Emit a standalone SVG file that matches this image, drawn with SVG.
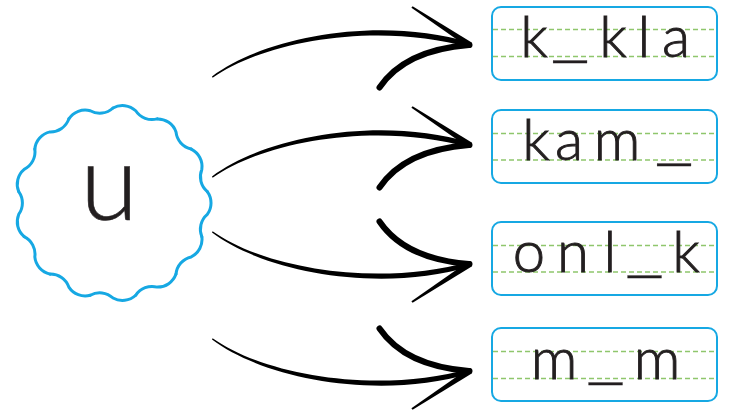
<svg xmlns="http://www.w3.org/2000/svg" xmlns:xlink="http://www.w3.org/1999/xlink" width="734" height="412" viewBox="0 0 734 412">
<style>
.box{fill:#fff;stroke:#16a8e3;stroke-width:2}
.guide{stroke:#8fc66c;stroke-width:1.5;stroke-dasharray:5 3;fill:none}
.lt{font-family:Lato,"Open Sans","Liberation Sans",sans-serif;font-weight:300;font-size:58px;fill:#231f20;stroke:#231f20;stroke-width:0.9;text-anchor:middle}
.us{font-family:"Liberation Mono",monospace;font-weight:400;font-size:56px;stroke-width:0.3}
.wave{fill:none;stroke:#16a8e3;stroke-width:3;stroke-linecap:round;stroke-linejoin:round}
.ink{fill:#000}
.barb{fill:none;stroke:#000;stroke-width:6;stroke-linecap:round}
</style>
<defs>
<path id="wv" d="M-11.45,-94.31 A19.5 19.5 0 0 1 11.45,-94.31 A19.5 19.5 0 0 0 33.69,-88.83"/>
<g id="arr">
<path class="ink" d="M212,76.4 C265,36.5 380,15.4 470,42.6 L470,47.6 C380,21.6 266,39.8 212.6,77.8 Z"/>
<path class="ink" d="M412.6,6.2 L471.7,42.5 L468.3,47.5 L411.4,7.8 Z"/>
<path class="barb" d="M379.5,87.5 Q405,50 469,45"/>
<circle class="ink" cx="469.5" cy="45" r="3"/>
</g>
</defs>
<g id="connectors">
<use xlink:href="#arr"/>
<use xlink:href="#arr" transform="translate(0,100)"/>
<use xlink:href="#arr" transform="matrix(1 0 0 -1 0 309)"/>
<use xlink:href="#arr" transform="matrix(1 0 0 -1 0 416)"/>
</g>
<g id="node-u">
<g class="wave" transform="translate(113,203)">
<use xlink:href="#wv" transform="rotate(90)"/>
<use xlink:href="#wv" transform="rotate(117.69)"/>
<use xlink:href="#wv" transform="rotate(145.38)"/>
<use xlink:href="#wv" transform="rotate(173.08)"/>
<use xlink:href="#wv" transform="rotate(200.77)"/>
<use xlink:href="#wv" transform="rotate(228.46)"/>
<use xlink:href="#wv" transform="rotate(256.15)"/>
<use xlink:href="#wv" transform="rotate(283.85)"/>
<use xlink:href="#wv" transform="rotate(311.54)"/>
<use xlink:href="#wv" transform="rotate(339.23)"/>
<use xlink:href="#wv" transform="rotate(6.92)"/>
<use xlink:href="#wv" transform="rotate(34.62)"/>
<use xlink:href="#wv" transform="rotate(62.31)"/>
</g>
<text x="109" y="220" style="font-family:Lato,'Open Sans','Liberation Sans',sans-serif;font-weight:300;font-size:106px;fill:#231f20;stroke:#231f20;stroke-width:0.6;text-anchor:middle">u</text>
</g>
<g id="word1">
<rect class="box" x="492" y="7" width="225" height="73" rx="9"/>
<line class="guide" x1="493" y1="29.5" x2="716" y2="29.5"/>
<line class="guide" x1="493" y1="56.5" x2="716" y2="56.5"/>
<text class="lt" x="534 570 613 644 676" y="56.5">k<tspan class="us">_</tspan>kla</text>
</g>
<g id="word2">
<rect class="box" x="492" y="110" width="225" height="73" rx="9"/>
<line class="guide" x1="493" y1="133.5" x2="716" y2="133.5"/>
<line class="guide" x1="493" y1="160" x2="716" y2="160"/>
<text class="lt" x="536 569 617 674" y="160">kam<tspan class="us">_</tspan></text>
</g>
<g id="word3">
<rect class="box" x="492" y="222" width="225" height="73" rx="9"/>
<line class="guide" x1="493" y1="245.5" x2="716" y2="245.5"/>
<line class="guide" x1="493" y1="272" x2="716" y2="272"/>
<text class="lt" x="529 573 610 644.5 686" y="272">onl<tspan class="us">_</tspan>k</text>
</g>
<g id="word4">
<rect class="box" x="492" y="328" width="225" height="73" rx="9"/>
<line class="guide" x1="493" y1="351.5" x2="716" y2="351.5"/>
<line class="guide" x1="493" y1="378.5" x2="716" y2="378.5"/>
<text class="lt" x="554 605.5 657" y="378.5">m<tspan class="us">_</tspan>m</text>
</g>
</svg>
